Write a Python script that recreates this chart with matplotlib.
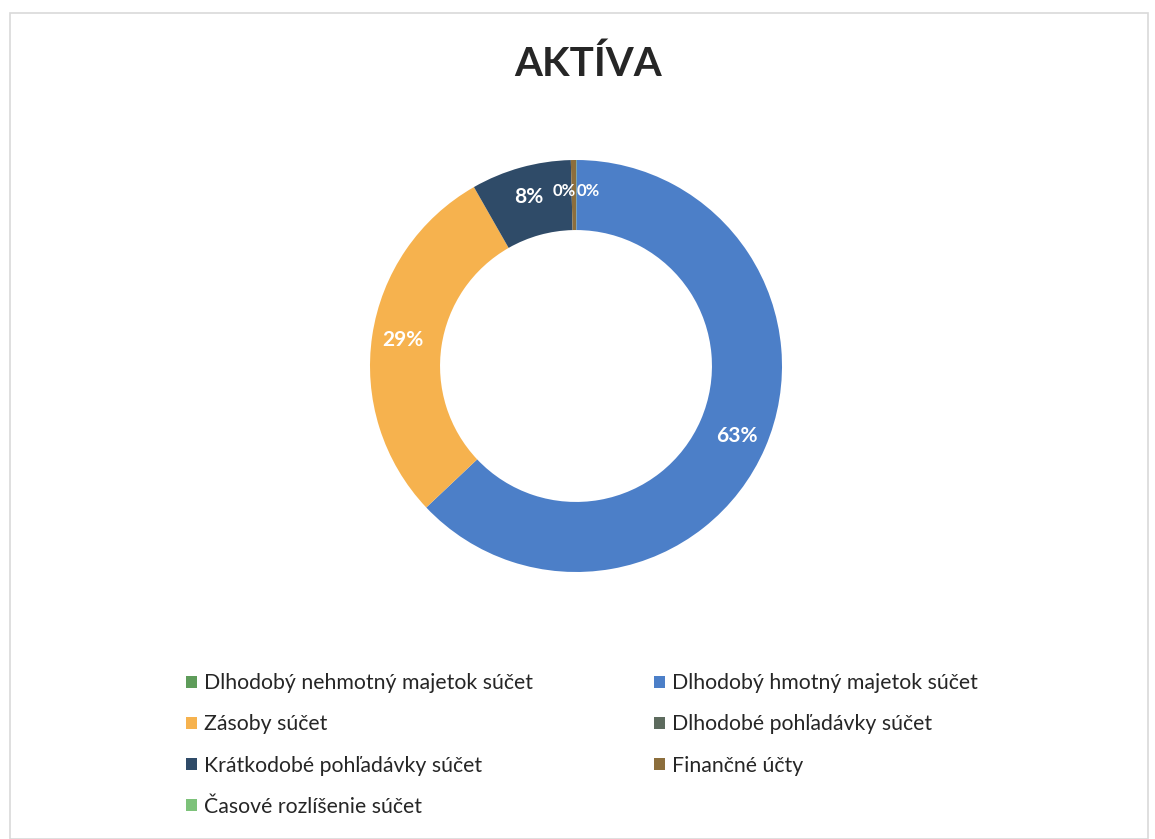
import matplotlib.pyplot as plt
from matplotlib.patches import Patch, Rectangle

plt.rcParams['font.family'] = ['Lato', 'DejaVu Sans']

# poradie segmentov v grafe (v smere hodinových ručičiek od vrchu)
kategorie = [
    "Dlhodobý nehmotný majetok súčet",
    "Dlhodobý hmotný majetok súčet",
    "Zásoby súčet",
    "Dlhodobé pohľadávky súčet",
    "Krátkodobé pohľadávky súčet",
    "Finančné účty",
    "Časové rozlíšenie súčet",
]
podiely = [0.05, 62.9, 28.8, 0.0, 7.85, 0.4, 0.0]
farby = ["#5E9C5A", "#4C7FC8", "#F6B24E", "#5D6B5E", "#2F4B68", "#8C6E3C", "#7DC27A"]

fig = plt.figure(figsize=(11.55, 8.39), dpi=100)
fig.patch.set_facecolor("white")

# jemny ramcek grafu
fig.add_artist(Rectangle((10 / 1155, 0), 1138 / 1155, 826 / 839, transform=fig.transFigure,
                         fill=False, edgecolor="#d9d9d9", linewidth=1.2))

fig.text(588 / 1155, 1 - 64 / 839, "AKTÍVA", ha="center", va="center",
         fontsize=29, fontweight="bold", color="#262626")

# os pre prstenec, stred ~ (576, 366) px, polomer ~206 px
r_px = 206
ax = fig.add_axes([(576 - r_px) / 1155, (839 - 366 - r_px) / 839, 2 * r_px / 1155, 2 * r_px / 839])


def popis(p):
    return f"{p:.0f}%"


wedges, texty, autotexty = ax.pie(
    podiely, colors=farby, startangle=90, counterclock=False,
    radius=1, wedgeprops=dict(width=0.34, edgecolor="none"),
    autopct=popis, pctdistance=0.85, labels=None,
    textprops=dict(color="white", fontsize=15, fontweight="bold"),
)
# nulove segmenty bez popisu, malé popisy na vrchu sú tesne vedľa seba
for t, v in zip(autotexty, podiely):
    if v == 0.0:
        t.set_visible(False)
autotexty[0].set_position((-0.055, 0.85))
autotexty[5].set_position((0.06, 0.85))
autotexty[0].set_fontsize(12)
autotexty[5].set_fontsize(12)

ax.set_xlim(-1, 1)
ax.set_ylim(-1, 1)
ax.axis("off")

# legenda - riadkove poradie ako v Exceli, matplotlib plni po stlpcoch
poradie = [0, 2, 4, 6, 1, 3, 5]
handles = [Patch(facecolor=farby[i], edgecolor="none") for i in poradie]
labels = [kategorie[i] for i in poradie]
fig.legend(handles, labels, ncol=2, loc="upper left",
           bbox_to_anchor=(167 / 1155, 1 - 654 / 839),
           frameon=False, fontsize=15.3, handlelength=0.5, handleheight=0.5,
           handletextpad=0.35, columnspacing=5.7, labelspacing=1.0,
           labelcolor="#262626")

fig.savefig("out.png", dpi=100)
